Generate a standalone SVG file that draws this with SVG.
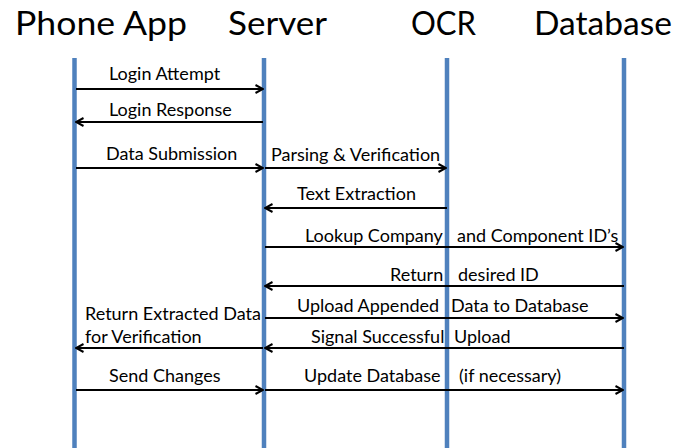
<svg xmlns="http://www.w3.org/2000/svg" width="679" height="448" viewBox="0 0 679 448">
  <style>
    .title { font-family: Lato, "Open Sans", sans-serif; font-size: 33px; fill: #000; }
    .lbl { font-family: Lato, "Open Sans", sans-serif; font-size: 18px; fill: #000; }
    .life { stroke: #4F81BD; stroke-width: 4.5; fill: none; }
    .msg { stroke: #000; stroke-width: 2; fill: none; }
  </style>
  <defs>
    <marker id="arrow" viewBox="0 0 10 10" refX="9" refY="5" markerWidth="10" markerHeight="10" markerUnits="userSpaceOnUse" orient="auto">
      <path d="M1.5,1 L9,5 L1.5,9" fill="none" stroke="#000" stroke-width="2"/>
    </marker>
  </defs>
  <rect width="679" height="448" fill="#fff"/>

  <!-- participants with lifelines -->
  <g id="phone-app">
    <text class="title" x="15" y="35" textLength="172" lengthAdjust="spacingAndGlyphs">Phone App</text>
    <line class="life" x1="74.5" y1="58" x2="74.5" y2="448"/>
  </g>
  <g id="server">
    <text class="title" x="228" y="35" textLength="99" lengthAdjust="spacingAndGlyphs">Server</text>
    <line class="life" x1="264" y1="58" x2="264" y2="448"/>
  </g>
  <g id="ocr">
    <text class="title" x="411" y="35" textLength="65" lengthAdjust="spacingAndGlyphs">OCR</text>
    <line class="life" x1="447" y1="58" x2="447" y2="448"/>
  </g>
  <g id="database">
    <text class="title" x="534" y="35" textLength="138" lengthAdjust="spacingAndGlyphs">Database</text>
    <line class="life" x1="624" y1="58" x2="624" y2="448"/>
  </g>

  <!-- messages -->
  <g id="connectors">
    <line class="msg" x1="76" y1="89" x2="263" y2="89" marker-end="url(#arrow)"/>
    <line class="msg" x1="263" y1="122" x2="76" y2="122" marker-end="url(#arrow)"/>
    <line class="msg" x1="76" y1="168" x2="263" y2="168" marker-end="url(#arrow)"/>
    <line class="msg" x1="265" y1="168" x2="446" y2="168" marker-end="url(#arrow)"/>
    <line class="msg" x1="447" y1="208" x2="265" y2="208" marker-end="url(#arrow)"/>
    <line class="msg" x1="265" y1="247" x2="623" y2="247" marker-end="url(#arrow)"/>
    <line class="msg" x1="624" y1="286" x2="265" y2="286" marker-end="url(#arrow)"/>
    <line class="msg" x1="265" y1="318" x2="623" y2="318" marker-end="url(#arrow)"/>
    <line class="msg" x1="263" y1="348" x2="76" y2="348" marker-end="url(#arrow)"/>
    <line class="msg" x1="624" y1="348" x2="265" y2="348" marker-end="url(#arrow)"/>
    <line class="msg" x1="76" y1="390" x2="263" y2="390" marker-end="url(#arrow)"/>
    <line class="msg" x1="265" y1="390" x2="623" y2="390" marker-end="url(#arrow)"/>
  </g>

  <!-- message labels -->
  <g id="labels">
    <text class="lbl" x="109" y="80">Login Attempt</text>
    <text class="lbl" x="109" y="116">Login Response</text>
    <text class="lbl" x="106" y="160">Data Submission</text>
    <text class="lbl" x="271" y="161">Parsing &amp; Verification</text>
    <text class="lbl" x="297" y="200">Text Extraction</text>
    <text class="lbl" x="305" y="242">Lookup Company</text>
    <text class="lbl" x="457" y="242">and Component ID’s</text>
    <text class="lbl" x="390" y="281">Return</text>
    <text class="lbl" x="458" y="281">desired ID</text>
    <text class="lbl" x="297" y="312">Upload Appended</text>
    <text class="lbl" x="451" y="312">Data to Database</text>
    <text class="lbl" x="85" y="320">Return Extracted Data</text>
    <text class="lbl" x="85" y="343">for Verification</text>
    <text class="lbl" x="311" y="343">Signal Successful</text>
    <text class="lbl" x="454" y="343">Upload</text>
    <text class="lbl" x="109" y="382">Send Changes</text>
    <text class="lbl" x="304" y="382">Update Database</text>
    <text class="lbl" x="459" y="382">(if necessary)</text>
  </g>
</svg>
